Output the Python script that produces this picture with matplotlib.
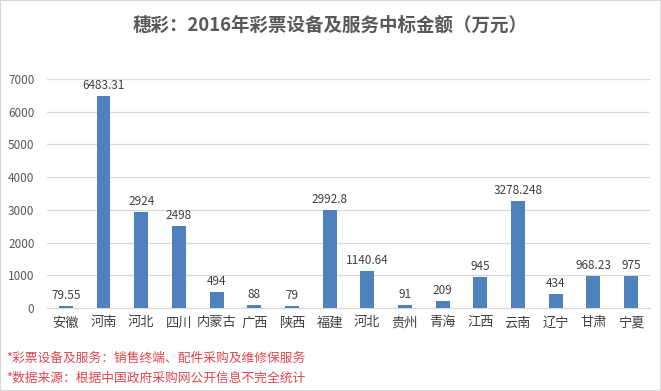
import matplotlib.pyplot as plt
import numpy as np

plt.rcParams['font.family'] = ['Noto Sans CJK SC', 'DejaVu Sans']

provinces = ['安徽', '河南', '河北', '四川', '内蒙古', '广西', '陕西', '福建',
             '河北', '贵州', '青海', '江西', '云南', '辽宁', '甘肃', '宁夏']
amounts = [79.55, 6483.31, 2924, 2498, 494, 88, 79, 2992.8,
           1140.64, 91, 209, 945, 3278.248, 434, 968.23, 975]
labels = ['79.55', '6483.31', '2924', '2498', '494', '88', '79', '2992.8',
          '1140.64', '91', '209', '945', '3278.248', '434', '968.23', '975']
yticks = [0, 1000, 2000, 3000, 4000, 5000, 6000, 7000]

fig = plt.figure(figsize=(6.61, 3.91), dpi=100)
ax = fig.add_axes([0.0711, 0.212, 0.912, 0.586])

x = np.arange(len(provinces))
ax.bar(x, amounts, width=0.37, color='#4f81bd', zorder=3)
for xi, v, t in zip(x, amounts, labels):
    ax.text(xi, v + 120, t, ha='center', va='bottom', fontsize=8.5,
            color='#404040', clip_on=False)

ax.set_xlim(-0.5, len(provinces) - 0.5)
ax.set_ylim(0, 7000)
ax.set_yticks(yticks)
ax.set_yticklabels([str(t) for t in yticks], fontsize=8.5, color='#595959')
ax.set_xticks(x)
ax.set_xticklabels(provinces, fontsize=9.5, color='#404040')
ax.tick_params(length=0, pad=6)
ax.tick_params(axis='y', pad=9)
ax.grid(axis='y', color='#d9d9d9', linewidth=0.9, zorder=0)
for s in ['top', 'right', 'left']:
    ax.spines[s].set_visible(False)
ax.spines['bottom'].set_color('#d9d9d9')

fig.text(0.5, 0.935, '穗彩：2016年彩票设备及服务中标金额（万元）', ha='center', va='center',
         fontsize=13.3, fontweight='bold', color='#595959')
fig.text(0.01, 0.083, '*彩票设备及服务：销售终端、配件采购及维修保服务', ha='left', va='center',
         fontsize=9.2, color='#e0474c')
fig.text(0.01, 0.033, '*数据来源：根据中国政府采购网公开信息不完全统计', ha='left', va='center',
         fontsize=9.2, color='#e0474c')

fig.patches.append(plt.Rectangle((0, 0), 1, 1, transform=fig.transFigure, fill=False,
                                 edgecolor='#d9d9d9', linewidth=1.5))

fig.savefig('out.png', dpi=100)
